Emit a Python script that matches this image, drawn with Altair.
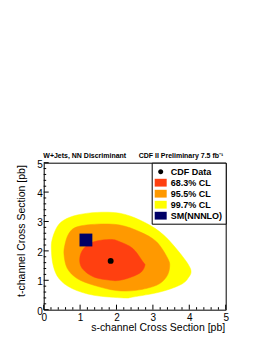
import altair as alt
import pandas as pd

# ---- data ----
yellow_x = [0.21, 0.24, 0.37, 0.56, 0.92, 1.47, 2.09, 2.64, 3.19, 3.64, 4.03, 3.96, 3.73, 3.19, 2.45, 2.20, 1.38, 0.78, 0.42, 0.26]
yellow_y = [2.08, 2.42, 2.82, 3.05, 3.22, 3.31, 3.28, 3.05, 2.65, 2.08, 1.40, 1.06, 0.83, 0.60, 0.43, 0.40, 0.49, 0.72, 1.06, 1.51]
orange_x = [0.56, 0.58, 0.69, 0.92, 1.47, 2.09, 2.64, 3.10, 3.41, 3.46, 3.37, 3.10, 2.55, 2.00, 1.38, 0.92, 0.65]
orange_y = [1.85, 2.19, 2.59, 2.82, 2.91, 2.88, 2.65, 2.31, 1.74, 1.45, 1.11, 0.83, 0.66, 0.65, 0.83, 1.06, 1.40]
red_x = [0.99, 1.10, 1.38, 1.84, 2.09, 2.45, 2.73, 2.78, 2.68, 2.41, 2.09, 1.84, 1.38, 1.06]
red_y = [1.74, 2.08, 2.31, 2.39, 2.31, 2.08, 1.62, 1.51, 1.28, 1.11, 1.00, 1.00, 1.11, 1.40]

cdf_x = [1.84]
cdf_y = [1.66]
sm_x = [1.16]
sm_y = [2.37]

legend_names = ["CDF Data", "68.3% CL", "95.5% CL", "99.7% CL", "SM(NNNLO)"]
legend_colors = ["#000000", "#ff4010", "#ff9900", "#ffff00", "#000066"]

header = ["W+Jets, NN Discriminant", "CDF II Preliminary 7.5 fb\u207b\u00b9"]
axis_values = [0, 1, 2, 3, 4, 5]
minor_ticks = [0.2, 0.4, 0.6, 0.8, 1.2, 1.4, 1.6, 1.8, 2.2, 2.4, 2.6, 2.8,
               3.2, 3.4, 3.6, 3.8, 4.2, 4.4, 4.6, 4.8]
x_title = "s-channel Cross Section [pb]"
y_title = "t-channel Cross Section [pb]"

W, H = 182, 147
FONT = "Liberation Sans"

xs = alt.Scale(domain=[0, 5], nice=False, zero=False)
ys = alt.Scale(domain=[0, 5], nice=False, zero=False)

xaxis = alt.Axis(values=axis_values, format="d", ticks=False, domain=False, grid=False,
                 labelFontSize=10, labelFont=FONT, labelPadding=3, labelFlush=False,
                 labelOverlap=False, labelBound=False,
                 labelColor="black", title=x_title, titleFont=FONT, titleFontSize=10.5,
                 titleFontWeight="normal", titleColor="black", titleAlign="right",
                 titleBaseline="alphabetic", titleX=W - 1, titleY=21)
yaxis = alt.Axis(values=axis_values, format="d", ticks=False, domain=False, grid=False,
                 labelFontSize=10, labelFont=FONT, labelPadding=1.5, labelFlush=False,
                 labelOverlap=False, labelBound=False,
                 labelOffset=1.5, labelColor="black", title=y_title, titleFont=FONT,
                 titleFontSize=10.5, titleFontWeight="normal", titleColor="black",
                 titleAngle=270, titleAlign="right", titleBaseline="middle",
                 titleX=-22, titleY=2)


def X(field):
    return alt.X(field, scale=xs, axis=xaxis)


def Y(field):
    return alt.Y(field, scale=ys, axis=yaxis)


def contour(xv, yv, color):
    df = pd.DataFrame({"x": xv, "y": yv, "i": list(range(len(xv)))})
    return alt.Chart(df).mark_line(interpolate="cardinal-closed", fill=color, stroke=color,
                                   strokeWidth=0.5).encode(
        x=X("x:Q"), y=Y("y:Q"), order="i:Q",
    )


yel = contour(yellow_x, yellow_y, legend_colors[3])
ora = contour(orange_x, orange_y, legend_colors[2])
red = contour(red_x, red_y, legend_colors[1])

cdf = alt.Chart(pd.DataFrame({"x": cdf_x, "y": cdf_y})).mark_circle(
    size=35, color="black", opacity=1).encode(x=X("x:Q"), y=Y("y:Q"))
sm = alt.Chart(pd.DataFrame({"x": sm_x, "y": sm_y})).mark_square(
    size=165, color="#000066", opacity=1).encode(x=X("x:Q"), y=Y("y:Q"))

circ = "M-0.42,0A0.42,0.42,0,1,0,0.42,0A0.42,0.42,0,1,0,-0.42,0Z"
rect = "M-1,-0.65L1,-0.65L1,0.65L-1,0.65Z"
leg_df = pd.DataFrame({"name": legend_names, "x": cdf_x * 5, "y": cdf_y * 5})
legend = alt.Legend(title=None, orient="top-right", offset=0, symbolSize=144,
                    symbolStrokeWidth=0, symbolOpacity=1, labelFont=FONT, labelFontSize=9,
                    labelFontWeight="bold", labelColor="black", labelOffset=4, padding=3,
                    rowPadding=0, strokeColor="black", fillColor="white")
leg = alt.Chart(leg_df).mark_point(filled=True, opacity=0).encode(
    x=X("x:Q"),
    y=Y("y:Q"),
    color=alt.Color("name:N", scale=alt.Scale(domain=legend_names, range=legend_colors),
                    sort=legend_names, legend=legend),
    shape=alt.Shape("name:N", scale=alt.Scale(domain=legend_names,
                                              range=[circ, rect, rect, rect, rect]),
                    sort=legend_names, legend=legend),
)

# axis ticks (inside, ROOT style)
maj_df = pd.DataFrame({"v": axis_values})
min_df = pd.DataFrame({"v": minor_ticks})
tx_maj = alt.Chart(maj_df).mark_rule(color="black", strokeWidth=1).encode(
    x=X("v:Q"), y=alt.value(H), y2=alt.value(H - 5))
tx_min = alt.Chart(min_df).mark_rule(color="black", strokeWidth=1).encode(
    x=X("v:Q"), y=alt.value(H), y2=alt.value(H - 2.5))
ty_maj = alt.Chart(maj_df).mark_rule(color="black", strokeWidth=1).encode(
    y=Y("v:Q"), x=alt.value(0), x2=alt.value(5))
ty_min = alt.Chart(min_df).mark_rule(color="black", strokeWidth=1).encode(
    y=Y("v:Q"), x=alt.value(0), x2=alt.value(2.5))

hdr1 = alt.Chart(pd.DataFrame({"t": [header[0]]})).mark_text(
    font=FONT, fontSize=7, fontWeight="bold", align="left", baseline="alphabetic",
    color="black").encode(x=alt.value(-0.4), y=alt.value(-4.2), text="t:N")
hdr2 = alt.Chart(pd.DataFrame({"t": [header[1]]})).mark_text(
    font=FONT, fontSize=7, fontWeight="bold", align="left", baseline="alphabetic",
    color="black").encode(x=alt.value(95), y=alt.value(-4.2), text="t:N")

chart = alt.layer(yel, ora, red, cdf, sm, leg, tx_maj, tx_min, ty_maj, ty_min, hdr1, hdr2).properties(
    width=W, height=H,
    autosize=alt.AutoSizeParams(type="none"),
    padding={"left": 35.7, "top": 154.7, "right": 20, "bottom": 30},
    background="white",
).configure_view(stroke="black", strokeWidth=1).configure_axis(labelOverlap=False)

chart.save("out.html", embed_options={"renderer": "svg", "actions": False})
